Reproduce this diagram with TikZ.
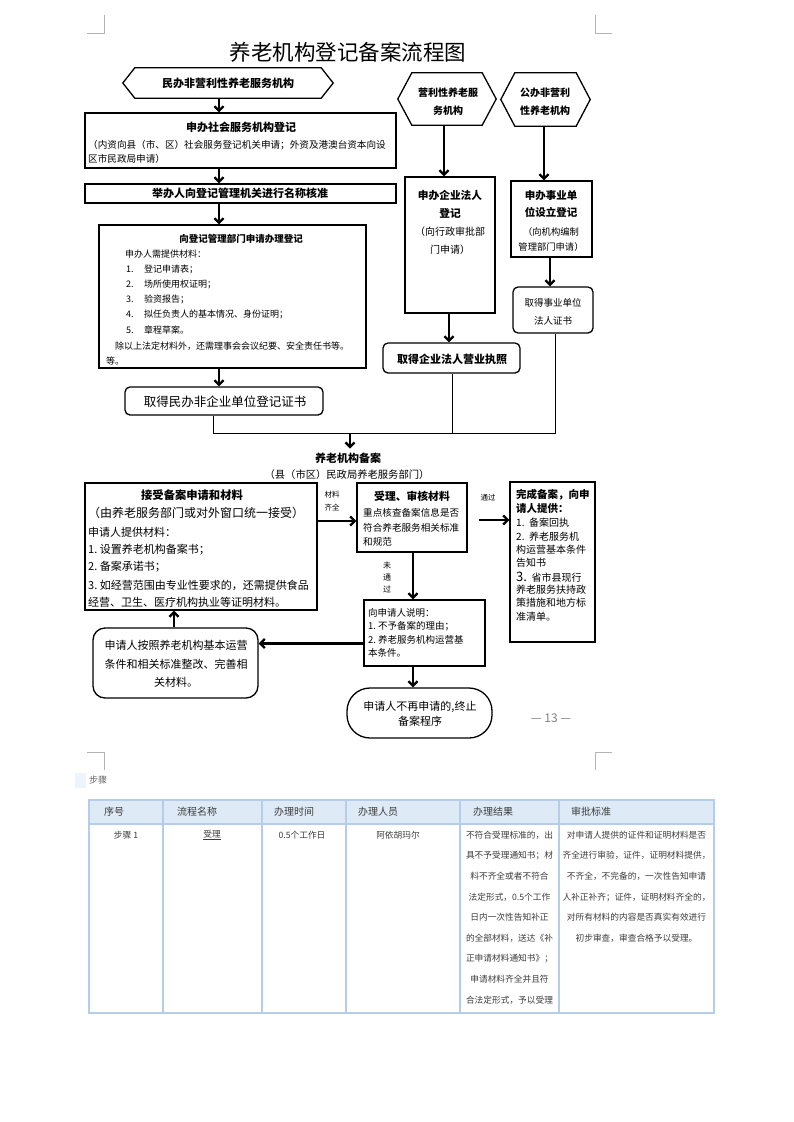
\documentclass[tikz,border=0pt]{standalone}
\usepackage{fontspec}
\setmainfont{Noto Sans CJK SC}
\usetikzlibrary{arrows.meta}
\newcommand{\fsz}[1]{\fontsize{#1}{#1}\selectfont}
\newcommand{\fsb}[2]{\fontsize{#1}{#2}\selectfont}
\definecolor{tblline}{HTML}{B5CDE9}
\definecolor{tblhead}{HTML}{DEEAF6}
\definecolor{tbltext}{HTML}{3C3C3C}
\definecolor{markgray}{HTML}{B4B4B4}
\newcommand{\bx}[6]{\node[#1, minimum width={#4-#2}, minimum height={#5-#3}] (#6) at ({(#2+#4)/2},{(#3+#5)/2}) {};}
\begin{document}
\begin{tikzpicture}[x=1pt,y=-1pt,
  box/.style={draw=black, line width=1.3pt, inner sep=0pt, fill=white},
  rbox/.style={box, rounded corners=5pt},
  rboxb/.style={box, rounded corners=12pt},
  rboxc/.style={box, rounded corners=23pt},
  hexs/.style={draw=black, line width=1.3pt},
  arr/.style={line width=2.3pt, -{Straight Barb[length=4.5pt,width=9pt]}},
  link/.style={line width=1pt},
  tx/.style={inner sep=0pt},
  lt/.style={tx, anchor=west},
  cropmk/.style={draw=markgray, line width=0.9pt},
  tline/.style={draw=tblline, line width=1.2pt}
]
\fill[white] (0,0) rectangle (793,1122);
\useasboundingbox (0,0) rectangle (793,1122);

% crop marks
\draw[cropmk] (104,15) -- (104,33) -- (87,33);
\draw[cropmk] (595,15) -- (595,33) -- (612,33);
\draw[cropmk] (87,752) -- (104,752) -- (104,770);
\draw[cropmk] (612,752) -- (595,752) -- (595,770);

% title
\node[tx, font=\fsz{21.5}] (title) at (348,52) {养老机构登记备案流程图};

% hexagons
\node[tx, minimum width=186, minimum height=30, font=\bfseries\fsz{11}] (hA) at (228,83) {民办非营利性养老服务机构};
\draw[hexs] ([xshift=-12pt]hA.west) -- (hA.north west) -- (hA.north east) -- ([xshift=12pt]hA.east) -- (hA.south east) -- (hA.south west) -- cycle;
\node[tx, minimum width=70, minimum height=52] (hB) at (447,99) {};
\draw[hexs] ([xshift=-14pt]hB.west) -- (hB.north west) -- (hB.north east) -- ([xshift=14pt]hB.east) -- (hB.south east) -- (hB.south west) -- cycle;
\node[tx, font=\bfseries\fsb{10}{18}, align=center] (hBt) at (448,102) {营利性养老服\\务机构};
\node[tx, minimum width=61, minimum height=53] (hC) at (545.5,99.5) {};
\draw[hexs] ([xshift=-14pt]hC.west) -- (hC.north west) -- (hC.north east) -- ([xshift=14pt]hC.east) -- (hC.south east) -- (hC.south west) -- cycle;
\node[tx, font=\bfseries\fsb{10}{18}, align=center] (hCt) at (545,102) {公办非营利\\性养老机构};

% boxes
\bx{box}{85}{113}{396}{168}{b1}
\bx{box}{85}{184}{396}{203}{b2}
\bx{box}{99}{225}{366}{368}{b3}
\bx{rbox}{125}{387}{323}{415}{b4}
\bx{box}{405}{177}{495}{313}{b5}
\bx{box}{511}{181}{592}{257}{b6}
\bx{rbox}{513}{287}{593}{333}{b7}
\bx{rbox}{383}{343}{520}{373}{b8}
\bx{box}{85}{483}{317}{610}{b9}
\bx{box}{357}{483}{467}{552}{b10}
\bx{box}{510}{482}{595}{642}{b11}
\bx{box}{364}{600}{485}{666}{b12}
\bx{rboxb}{93}{628}{258}{698}{b13}
\bx{rboxc}{347}{688}{492}{738}{b14}

% texts: b1
\node[tx, font=\bfseries\fsz{11}] (b1t) at (241,127) {申办社会服务机构登记};
\node[lt, font=\fsz{9.6}] (b1a) at (88,145) {（内资向县（市、区）社会服务登记机关申请；外资及港澳台资本向设};
\node[lt, font=\fsz{9.6}] (b1b) at (88,158.5) {区市民政局申请）};
% b2
\node[tx, font=\bfseries\fsz{11}] (b2t) at (240,193.5) {举办人向登记管理机关进行名称核准};
% b3
\node[tx, font=\bfseries\fsz{9.5}] (b3t) at (241,239) {向登记管理部门申请办理登记};
\node[lt, font=\fsz{9}] (b3a) at (125,254) {申办人需提供材料：};
\node[lt, font=\fsz{9}] (b3n1) at (126,269.5) {1.};
\node[lt, font=\fsz{9}] (b3i1) at (144,269.5) {登记申请表；};
\node[lt, font=\fsz{9}] (b3n2) at (126,284.5) {2.};
\node[lt, font=\fsz{9}] (b3i2) at (144,284.5) {场所使用权证明；};
\node[lt, font=\fsz{9}] (b3n3) at (126,299.5) {3.};
\node[lt, font=\fsz{9}] (b3i3) at (144,299.5) {验资报告；};
\node[lt, font=\fsz{9}] (b3n4) at (126,314.5) {4.};
\node[lt, font=\fsz{9}] (b3i4) at (144,314.5) {拟任负责人的基本情况、身份证明；};
\node[lt, font=\fsz{9}] (b3n5) at (126,330) {5.};
\node[lt, font=\fsz{9}] (b3i5) at (144,330) {章程草案。};
\node[lt, font=\fsz{9}] (b3b) at (115,346) {除以上法定材料外，还需理事会会议纪要、安全责任书等。};
\node[lt, font=\fsz{9}] (b3c) at (106,361) {等。};
% b4
\node[tx, font=\fsz{12.5}] (b4t) at (225,402) {取得民办非企业单位登记证书};
% b5
\node[tx, font=\bfseries\fsb{10.7}{18}, align=center] (b5t) at (450,204) {申办企业法人\\登记};
\node[tx, font=\fsb{10}{18}, align=center] (b5s) at (450,241) {（向行政审批部\\门申请）};
% b6
\node[tx, font=\bfseries\fsb{10.5}{17}, align=center] (b6t) at (551,204.5) {申办事业单\\位设立登记};
\node[tx, font=\fsb{9.3}{15.5}, align=center] (b6s) at (551,239.5) {（向机构编制\\管理部门申请）};
% b7
\node[tx, font=\fsb{9.5}{18}, align=center] (b7t) at (553,312) {取得事业单位\\法人证书};
% b8
\node[tx, font=\bfseries\fsz{11}] (b8t) at (452,359) {取得企业法人营业执照};

% registration label
\node[tx, font=\bfseries\fsz{11}] (reg) at (348,458) {养老机构备案};
\node[tx, font=\fsz{10.3}] (regs) at (347,475) {（县（市区）民政局养老服务部门）};

% b9
\node[tx, font=\bfseries\fsz{11.3}] (b9t) at (192,495) {接受备案申请和材料};
\node[tx, font=\fsz{12}] (b9a) at (196,513) {（由养老服务部门或对外窗口统一接受）};
\node[lt, font=\fsz{11}] (b9b) at (88,532) {申请人提供材料：};
\node[lt, font=\fsz{11}] (b9c) at (88,550) {1.\ 设置养老机构备案书；};
\node[lt, font=\fsz{11}] (b9d) at (88,567) {2.\ 备案承诺书；};
\node[lt, font=\fsz{11}] (b9e) at (88,585) {3.\ 如经营范围由专业性要求的，还需提供食品};
\node[lt, font=\fsz{11}] (b9f) at (88,602) {经营、卫生、医疗机构执业等证明材料。};
% b10
\node[tx, font=\bfseries\fsz{10.8}] (b10t) at (412,496) {受理、审核材料};
\node[lt, font=\fsz{9.6}] (b10a) at (363,513) {重点核查备案信息是否};
\node[lt, font=\fsz{9.6}] (b10b) at (363,527.5) {符合养老服务相关标准};
\node[lt, font=\fsz{9.6}] (b10c) at (363,542) {和规范};
% b11
\node[lt, font=\bfseries\fsz{10.5}] (b11a) at (516,495) {完成备案，向申};
\node[lt, font=\bfseries\fsz{10.5}] (b11b) at (516,509) {请人提供：};
\node[lt, font=\fsz{10}] (b11c) at (516,523) {1.\ \ 备案回执};
\node[lt, font=\fsz{10}] (b11d) at (516,537) {2.\ \ 养老服务机};
\node[lt, font=\fsz{10}] (b11e) at (516,550) {构运营基本条件};
\node[lt, font=\fsz{10}] (b11f) at (516,563) {告知书};
\node[lt, font=\fsz{10}] (b11g) at (516,577) {{\fsz{13}3.}\ \ 省市县现行};
\node[lt, font=\fsz{10}] (b11h) at (516,590) {养老服务扶持政};
\node[lt, font=\fsz{10}] (b11i) at (516,603) {策措施和地方标};
\node[lt, font=\fsz{10}] (b11j) at (516,617) {准清单。};
% b12
\node[lt, font=\fsz{9.5}] (b12a) at (368,613) {向申请人说明：};
\node[lt, font=\fsz{9.5}] (b12b) at (368,626) {1.\ 不予备案的理由；};
\node[lt, font=\fsz{9.5}] (b12c) at (368,639.5) {2.\ 养老服务机构运营基};
\node[lt, font=\fsz{9.5}] (b12d) at (368,653) {本条件。};
% b13, b14
\node[tx, font=\fsb{11}{18.5}, align=center] (b13t) at (176,664) {申请人按照养老机构基本运营\\条件和相关标准整改、完善相\\关材料。};
\node[tx, font=\fsb{11}{15}, align=center] (b14t) at (420,713.5) {申请人不再申请的,终止\\备案程序};

% small labels
\node[tx, font=\fsb{7.5}{13}, align=center] (lblok) at (332,501.5) {材料\\齐全};
\node[tx, font=\fsz{7.5}] (lblpass) at (488,498) {通过};
\node[tx, font=\fsb{8}{12}, align=center] (lblno) at (387,577) {未\\通\\过};

% page number
\node[tx, font=\fsz{12}, text=gray] (pg) at (551,718) {— 13 —};

% connectors (top)
\coordinate (cx) at (219,0);
\draw[arr] (hA.south -| cx) -- (b1.north -| cx);
\draw[arr] (b1.south -| cx) -- (b2.north -| cx);
\draw[arr] (b2.south -| cx) -- (b3.north -| cx);
\draw[arr] (b3.south -| cx) -- (b4.north -| cx);
\coordinate (bx5) at (444,0);
\draw[arr] (hB.south -| bx5) -- (b5.north -| bx5);
\coordinate (bx6) at (544,0);
\draw[arr] (hC.south -| bx6) -- (b6.north -| bx6);
\coordinate (bx7) at (550,0);
\draw[arr] (b6.south -| bx7) -- (b7.north -| bx7);
\coordinate (bx8) at (449,0);
\draw[arr] (b5.south -| bx8) -- (b8.north -| bx8);

\coordinate (jy) at (0,433);
\coordinate (l4) at (213,0);
\coordinate (l8) at (452,0);
\coordinate (l7) at (555,0);
\draw[link] (b4.south -| l4) -- (l4 |- jy) -- (l7 |- jy) -- (b7.south -| l7);
\draw[link] (b8.south -| l8) -- (l8 |- jy);
\coordinate (jn) at (350,433);
\draw[arr, shorten >=4pt] (jn) -- (jn |- reg.north);

% connectors (bottom)
\coordinate (y521) at (0,521);
\coordinate (y520) at (0,520);
\coordinate (y643) at (0,643.5);
\coordinate (x413) at (413,0);
\coordinate (x174) at (174,0);
\draw[arr] (b9.east |- y521) -- (b10.west |- y521);
\draw[arr, shorten <=11pt] (b10.east |- y520) -- (b11.west |- y520);
\draw[arr] (b10.south -| x413) -- (b12.north -| x413);
\draw[arr] (b12.south -| x413) -- (b14.north -| x413);
\draw[arr] (b12.west |- y643) -- (b13.east |- y643);
\draw[arr] (b13.north -| x174) -- (b9.south -| x174);

% table
\fill[tblhead!50] (75,773) rectangle (86,788);
\node[lt, font=\fsz{9}, text=tbltext!80] (stp) at (89,780) {步骤};
\fill[tblhead] (89,800) rectangle (714,824);
\draw[tline] (89,800) rectangle (714,1013);
\draw[tline] (89,824) -- (714,824);
\foreach \xx in {163,262,346,460,559} \draw[tline] (\xx,800) -- (\xx,1013);
\node[lt, font=\fsz{10}, text=tbltext] (h1) at (104,812) {序号};
\node[lt, font=\fsz{10}, text=tbltext] (h2) at (177,812) {流程名称};
\node[lt, font=\fsz{10}, text=tbltext] (h3) at (274,812) {办理时间};
\node[lt, font=\fsz{10}, text=tbltext] (h4) at (358,812) {办理人员};
\node[lt, font=\fsz{10}, text=tbltext] (h5) at (473,812) {办理结果};
\node[lt, font=\fsz{10}, text=tbltext] (h6) at (571,812) {审批标准};
\node[tx, font=\fsz{8.7}, text=tbltext] (c1) at (126,835) {步骤 1};
\node[tx, font=\fsz{8.7}, text=tbltext] (c2) at (212,835) {\underline{受理}};
\node[tx, font=\fsz{8.7}, text=tbltext] (c3) at (302,835) {0.5个工作日};
\node[tx, font=\fsz{8.7}, text=tbltext] (c4) at (398,835) {阿依胡玛尔};
\node[tx, font=\fsb{8.7}{20.6}, text=tbltext, align=center] (c5) at (509.5,917.4) {不符合受理标准的，出\\具不予受理通知书；材\\料不齐全或者不符合\\法定形式，0.5个工作\\日内一次性告知补正\\的全部材料，送达《补\\正申请材料通知书》；\\申请材料齐全并且符\\合法定形式，予以受理};
\node[tx, font=\fsb{8.7}{20.6}, text=tbltext, align=center] (c6) at (636.5,886.5) {对申请人提供的证件和证明材料是否\\齐全进行审验，证件，证明材料提供，\\不齐全，不完备的，一次性告知申请\\人补正补齐；证件，证明材料齐全的，\\对所有材料的内容是否真实有效进行\\初步审查，审查合格予以受理。};
\end{tikzpicture}
\end{document}
